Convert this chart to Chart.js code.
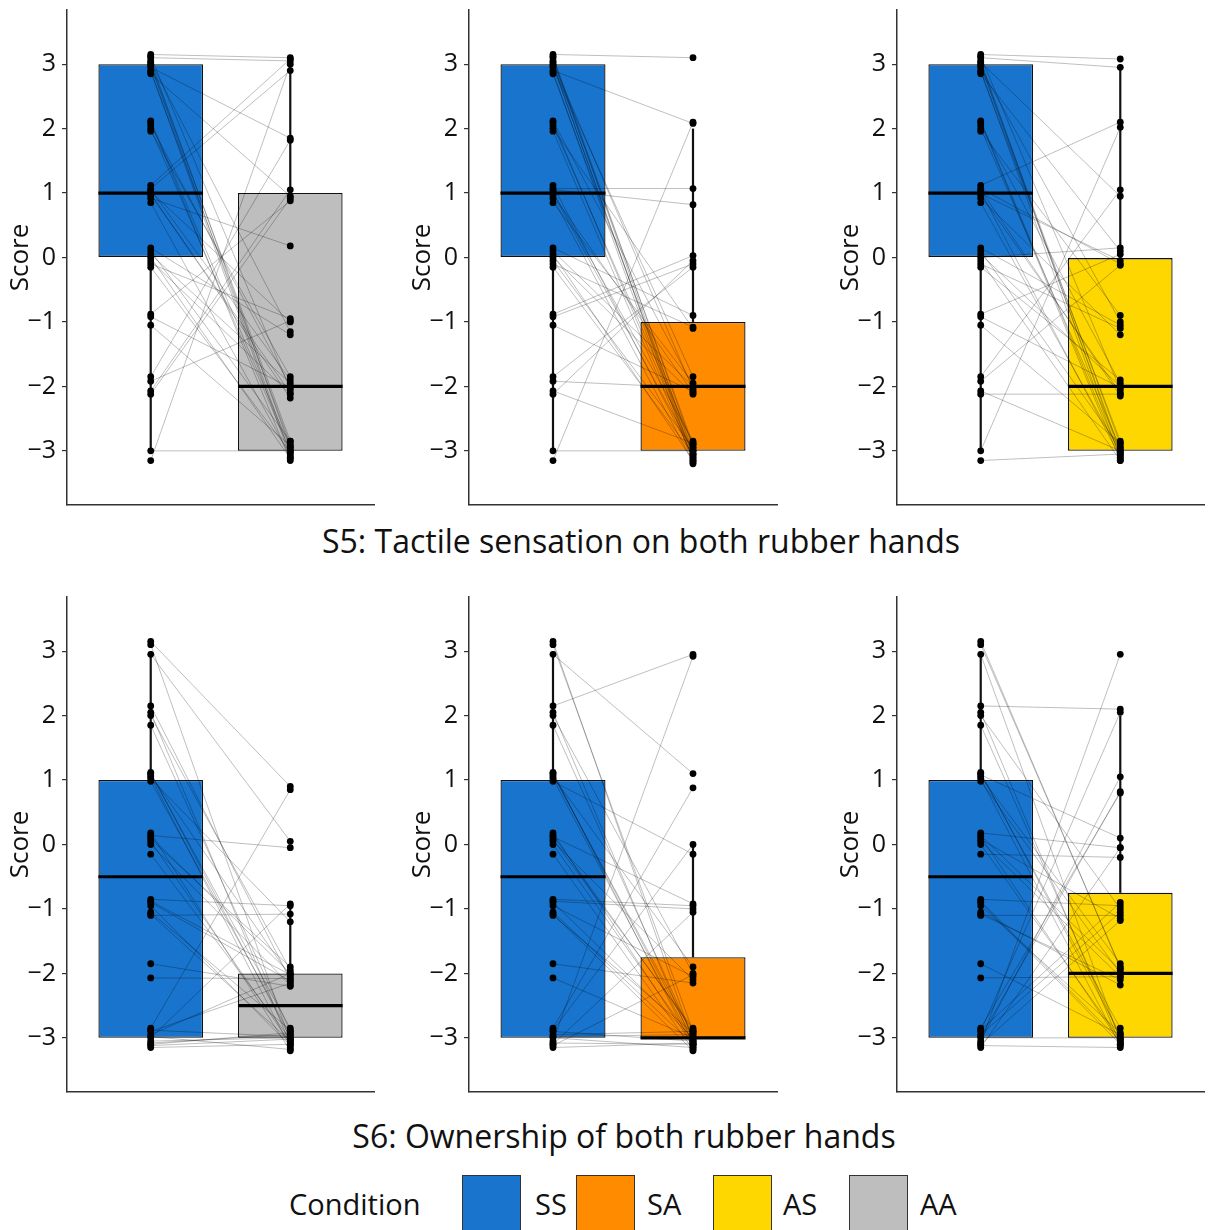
<!DOCTYPE html>
<html>
<head>
<meta charset="utf-8">
<script src="https://cdn.jsdelivr.net/npm/chart.js@4.4.1/dist/chart.umd.min.js"></script>
<style>
  body { margin: 0; background: #fff; }
  #wrap { position: relative; width: 1208px; height: 1230px; overflow: hidden; font-family: "Open Sans", sans-serif; color: #111; }
  canvas { position: absolute; }
  .rowTitle { position: absolute; font-size: 32px; white-space: nowrap; transform: translate(-50%, -50%); }
  .legendText { position: absolute; font-size: 29px; white-space: nowrap; transform: translateY(-50%); }
  .key { position: absolute; top: 1175px; width: 59px; height: 70px; border: 1px solid #333; box-sizing: border-box; }
</style>
</head>
<body>
<div id="wrap">
  <canvas id="p1" width="378" height="515" style="left:0;top:0"></canvas>
  <canvas id="p2" width="379" height="515" style="left:402px;top:0"></canvas>
  <canvas id="p3" width="378" height="515" style="left:830px;top:0"></canvas>
  <canvas id="p4" width="378" height="515" style="left:0;top:587px"></canvas>
  <canvas id="p5" width="379" height="515" style="left:402px;top:587px"></canvas>
  <canvas id="p6" width="378" height="515" style="left:830px;top:587px"></canvas>

  <div class="rowTitle" style="left:641px;top:540px">S5: Tactile sensation on both rubber hands</div>
  <div class="rowTitle" style="left:624px;top:1135px">S6: Ownership of both rubber hands</div>

  <div class="legendText" style="left:289px;top:1203px">Condition</div>
  <div class="key" style="left:462px;background:#1874CD"></div>
  <div class="legendText" style="left:535px;top:1203px">SS</div>
  <div class="key" style="left:576px;background:#FF8C00"></div>
  <div class="legendText" style="left:647px;top:1203px">SA</div>
  <div class="key" style="left:713px;background:#FFD700"></div>
  <div class="legendText" style="left:783px;top:1203px">AS</div>
  <div class="key" style="left:849px;background:#BEBEBE"></div>
  <div class="legendText" style="left:920px;top:1203px">AA</div>
</div>
<script>
// Scores per participant (vertically jittered), same participant order in every array
const ssTop = [3.15, 3.1, 3.05, 3.0, 2.95, 2.9, 2.85, 3.12, 2.98, 2.88, 3.03,
  2.1, 2.05, 2.0, 1.96, 2.12,
  1.12, 1.07, 1.02, 0.97, 0.92, 0.85, 1.05, 0.99,
  0.15, 0.1, 0.05, 0.0, -0.05, -0.1, -0.15,
  -0.88, -0.92, -1.05,
  -1.85, -1.92, -2.07, -2.12,
  -3.0, -3.15];
const aaTop = [3.1, 3.05, -2.95, -2.85, 1.85, -3.1, 0.95, -2.05, -3.05, -2.9, -1.15,
  -3.15, -2.0, -3.0, -1.85, -2.95,
  3.08, 2.9, -1.0, -2.1, 0.18, -3.08, -1.9, -2.18,
  -1.2, -2.85, -1.95, -3.12, -2.12, -0.95, -3.02,
  0.88, -2.02, -2.92,
  1.82, -0.98, 1.05, 0.92,
  -3.0, 3.0];
const saTop = [3.1, -3.05, -2.9, -3.15, -1.85, 2.08, -3.0, -2.95, -3.1, -3.2, -2.05,
  -3.05, -2.9, -1.1, -3.12, -2.0,
  -3.08, 1.07, -2.85, -2.1, -3.18, -1.95, 0.82, -3.0,
  -0.9, -2.0, -3.15, -2.12, -2.95, -1.08, -3.05,
  0.03, -0.1, -2.08,
  -0.15, -2.02, -2.88, -0.05,
  -3.0, 2.1];
const asTop = [3.08, 2.95, -3.05, -2.9, -1.0, -3.12, 0.1, -2.05, -3.0, -2.85, 0.95,
  -3.15, -1.95, -2.95, -0.9, -3.08,
  2.1, -0.1, -3.1, -2.1, -1.2, -3.02, -2.15, -0.05,
  -1.05, -2.95, -2.0, 0.15, -3.15, -1.1, -1.9,
  0.05, -2.02, -2.88,
  1.05, -0.12, -3.0, -2.12,
  2.02, -3.05];

const ssBottom = [3.15, 3.1, 2.95,
  2.15, 2.05, 2.0, 1.85,
  1.12, 1.08, 1.05, 1.02, 0.98, 1.1,
  0.18, 0.12, 0.08, 0.05, 0.0, -0.15, 0.14,
  -0.85, -0.9, -0.95, -1.05, -1.1, -0.88, -1.08,
  -1.85, -2.07,
  -2.85, -2.9, -2.95, -3.0, -3.05, -3.1, -3.15, -2.88, -2.98, -3.08, -3.12];
const aaBottom = [0.9, -3.05, 0.05,
  -2.1, -3.1, -1.95, -2.9,
  -3.0, -2.05, -3.15, -1.2, -2.95, -2.85,
  -3.2, -2.0, -1.9, -3.08, -2.18, -3.02, -0.05,
  -0.95, -2.12, -3.12, -2.88, -1.08, -2.02, -3.05,
  -2.2, -2.08,
  0.85, -2.15, -2.0, -0.92, -3.0, -2.92, -3.1, -2.98, -3.18, -2.95, -3.02];
const saBottom = [-3.05, -2.9, 1.1,
  2.95, -3.1, -2.0, -3.0,
  -3.15, -2.95, -1.9, -3.08, -0.15, -3.02,
  -3.12, -0.92, -2.85, -2.1, -3.05, -3.18, -2.88,
  -0.95, -3.0, -2.05, -3.1, -2.92, -1.0, -3.2,
  -2.15, -3.0,
  0.88, -3.05, -2.9, -3.15, 2.92, -1.05, -3.08, 0.0, -2.95, -3.1, -2.02];
const asBottom = [-1.92, -1.9, -3.05,
  2.1, -3.1, -1.0, -3.0,
  -2.95, 0.1, -1.85, -3.12, -2.0, -2.85,
  -0.05, -3.08, -1.15, -2.05, -3.02, -0.2, -1.95,
  -0.95, -3.1, -2.92, -2.18, -1.1, -3.05, -2.1,
  -2.95, -2.05,
  0.8, 2.05, -1.05, -3.0, 1.05, -1.18, -0.05, -0.9, 0.82, 2.95, -3.15];

// Box statistics: [lower hinge, median, upper hinge, lower whisker end, upper whisker end]
const ssTopBox = [0, 1, 3, -3, 3];
const aaTopBox = [-3, -2, 1, -3, 3];
const saTopBox = [-3, -2, -1, -3, 2];
const asTopBox = [-3, -2, 0, -3, 3];
const ssBottomBox = [-3, -0.5, 1, -3, 3];
const aaBottomBox = [-3, -2.5, -2, -3, -1];
const saBottomBox = [-3, -3, -1.75, -3, 0];
const asBottomBox = [-3, -2, -0.75, -3, 2];

const yTicks = [-3, -2, -1, 0, 1, 2, 3];
const groupPositions = [1, 2];
const conditions = ["SS", "SA", "AS", "AA"];
const conditionColors = ["#1874CD", "#FF8C00", "#FFD700", "#BEBEBE"];

const FONT = "'Open Sans', sans-serif";

function noPadding(s) {
  s.paddingTop = 0;
  s.paddingBottom = 0;
  s.paddingLeft = 0;
  s.paddingRight = 0;
}

function makePanel(id, ss, ssBox, cond, condBox, condName) {
  const condColor = conditionColors[conditions.indexOf(condName)];
  const datasets = [];

  // boxes (floating bars from lower to upper hinge)
  datasets.push({
    type: "bar",
    data: [
      { x: groupPositions[0], y: [ssBox[0], ssBox[2]] },
      { x: groupPositions[1], y: [condBox[0], condBox[2]] },
    ],
    backgroundColor: [conditionColors[0], condColor],
    borderColor: "#111",
    borderWidth: 1.3,
    borderSkipped: false,
    barPercentage: 0.75,
    categoryPercentage: 1,
    order: 4,
  });

  // whiskers and medians
  [ssBox, condBox].forEach((b, k) => {
    const g = groupPositions[k];
    datasets.push({
      type: "line",
      data: [{ x: g, y: b[2] }, { x: g, y: b[4] }],
      borderColor: "#111", borderWidth: 2.2, pointRadius: 0, order: 3,
    });
    datasets.push({
      type: "line",
      data: [{ x: g, y: b[0] }, { x: g, y: b[3] }],
      borderColor: "#111", borderWidth: 2.2, pointRadius: 0, order: 3,
    });
    datasets.push({
      type: "line",
      data: [{ x: g - 0.375, y: b[1] }, { x: g + 0.375, y: b[1] }],
      borderColor: "#000", borderWidth: 3.2, pointRadius: 0, order: 2,
    });
  });

  // paired lines
  ss.forEach((v, i) => {
    datasets.push({
      type: "line",
      data: [{ x: groupPositions[0], y: v }, { x: groupPositions[1], y: cond[i] }],
      borderColor: "rgba(0,0,0,0.32)", borderWidth: 0.8, pointRadius: 0, order: 1,
    });
  });

  // points
  datasets.push({
    type: "scatter",
    data: ss.map((v) => ({ x: groupPositions[0], y: v }))
      .concat(cond.map((v) => ({ x: groupPositions[1], y: v }))),
    backgroundColor: "#000", borderWidth: 0, pointRadius: 3.4, order: 0,
  });

  new Chart(document.getElementById(id), {
    type: "bar",
    data: { datasets: datasets },
    options: {
      responsive: false,
      devicePixelRatio: 1,
      animation: false,
      layout: { padding: { top: 10, right: 0, bottom: 0, left: 0 } },
      plugins: { legend: { display: false }, tooltip: { enabled: false } },
      scales: {
        x: {
          type: "linear",
          min: 0.4,
          max: 2.6,
          offset: false,
          afterBuildTicks: (s) => { s.ticks = groupPositions.map((v) => ({ value: v })); },
          grid: { display: false },
          border: { display: true, color: "#333", width: 1.5 },
          ticks: { display: false },
          afterFit: (s) => { s.height = 10; noPadding(s); },
        },
        y: {
          type: "linear",
          min: -3.84,
          max: 3.84,
          afterBuildTicks: (s) => { s.ticks = yTicks.map((v) => ({ value: v })); },
          grid: { drawOnChartArea: false, drawTicks: true, tickLength: 5, color: "#333", lineWidth: 1.2 },
          border: { display: true, color: "#333", width: 1.5 },
          ticks: {
            color: "#111",
            padding: 6,
            font: { family: FONT, size: 25 },
            callback: (v) => (v < 0 ? "\u2212" + Math.abs(v) : String(v)),
          },
          title: {
            display: true,
            text: "Score",
            color: "#111",
            font: { family: FONT, size: 26 },
            padding: { top: 5, bottom: 0 },
          },
          afterFit: (s) => { s.width = 67; noPadding(s); },
        },
      },
    },
  });
}

makePanel("p1", ssTop, ssTopBox, aaTop, aaTopBox, "AA");
makePanel("p2", ssTop, ssTopBox, saTop, saTopBox, "SA");
makePanel("p3", ssTop, ssTopBox, asTop, asTopBox, "AS");
makePanel("p4", ssBottom, ssBottomBox, aaBottom, aaBottomBox, "AA");
makePanel("p5", ssBottom, ssBottomBox, saBottom, saBottomBox, "SA");
makePanel("p6", ssBottom, ssBottomBox, asBottom, asBottomBox, "AS");
</script>
</body>
</html>
